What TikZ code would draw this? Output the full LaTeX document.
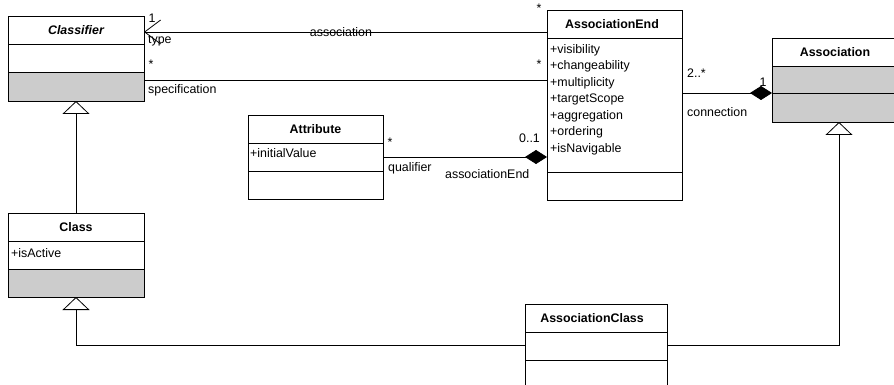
\documentclass[tikz,border=0pt]{standalone}
\usepackage{fontspec}
\setmainfont{Liberation Sans}
\usetikzlibrary{arrows.meta}
\definecolor{compgray}{HTML}{CCCCCC}
\begin{document}
\begin{tikzpicture}[x=1pt,y=-1pt,
  every node/.style={font=\fontsize{12.4}{15}\selectfont, inner sep=0pt},
  umlbox/.style={draw, line width=0.9pt, anchor=north west, outer sep=0pt},
  sep/.style={line width=0.9pt},
  head/.style={font=\fontsize{12.4}{15}\selectfont\bfseries},
  attr/.style={anchor=west},
  lbl/.style={anchor=west},
  conn/.style={line width=0.8pt},
  gen/.style={conn, -{Triangle[open, length=13pt, width=27pt]}},
  nav/.style={conn, -{Straight Barb[length=16pt, width=24pt]}},
  comp/.style={conn, -{Diamond[length=22pt, width=14pt]}}]
\useasboundingbox (0,0) rectangle (894,385);
\clip (0,0) rectangle (894,385);

% Classifier
\fill[compgray] (8,72) rectangle (144,101);
\node[umlbox, minimum width=136pt, minimum height=85pt] (classifier) at (8,16) {};
\draw[sep] (8,44) -- (144,44) (8,72) -- (144,72);
\node[head, font=\fontsize{12.4}{15}\selectfont\bfseries\itshape] (classifierName) at (76,30) {Classifier};

% Class
\fill[compgray] (8,269) rectangle (144,297);
\node[umlbox, minimum width=136pt, minimum height=84pt] (class) at (8,213) {};
\draw[sep] (8,241) -- (144,241) (8,269) -- (144,269);
\node[head] (className) at (76,227) {Class};
\node[attr] (classAttr) at (11,253) {+isActive};

% Attribute
\node[umlbox, minimum width=135pt, minimum height=84pt] (attribute) at (248,115) {};
\draw[sep] (248,143) -- (383,143) (248,171) -- (383,171);
\node[head] (attributeName) at (315.5,129) {Attribute};
\node[attr] (attributeAttr) at (250,153) {+initialValue};

% AssociationEnd
\node[umlbox, minimum width=135pt, minimum height=190pt] (aend) at (547,10) {};
\draw[sep] (547,38) -- (682,38) (547,172) -- (682,172);
\node[head] (aendName) at (612,24) {AssociationEnd};
\foreach \t [count=\i from 0] in {visibility,changeability,multiplicity,targetScope,aggregation,ordering,isNavigable}
  \node[attr] (aendAttr\i) at (550,{50+16.5*\i}) {+\t};

% Association
\fill[compgray] (772,66) rectangle (906,122);
\node[umlbox, minimum width=134pt, minimum height=84pt] (assoc) at (772,38) {};
\draw[sep] (772,66) -- (906,66) (772,93) -- (906,93);
\node[head] (assocName) at (835,52) {Association};

% AssociationClass
\node[umlbox, minimum width=142pt, minimum height=100pt] (aclass) at (525,304) {};
\draw[sep] (525,332) -- (667,332) (525,360) -- (667,360);
\node[head] (aclassName) at (592,318) {AssociationClass};

% Associations
\draw[nav] (aend.west |- 0,32) -- (classifier.east |- 0,32);
\draw[conn] (classifier.east |- 0,80) -- (aend.west |- 0,80);
\draw[comp] (attribute.east |- 0,157) -- (aend.west |- 0,157);
\draw[comp] (aend.east |- 0,93) -- (assoc.west |- 0,93);

% Generalizations
\draw[gen] (class.north) -- (classifier.south);
\draw[gen] (aclass.west |- 0,345) -| (class.south);
\draw[gen] (aclass.east |- 0,345) -| (assoc.south);

% Role names and multiplicities
\node (m1) at (152,18) {1};
\node[lbl] (rType) at (148,41) {type};
\node (nAssoc) at (341,32) {association};
\node (m2) at (539,8) {*};
\node (m3) at (151,64) {*};
\node (m4) at (539,64) {*};
\node[lbl] (rSpec) at (148,90) {specification};
\node (m5) at (390,142) {*};
\node[lbl] (rQual) at (388,168) {qualifier};
\node[lbl] (rAEnd) at (445,174) {associationEnd};
\node[lbl] (m6) at (519,138) {0..1};
\node[lbl] (m7) at (687,73) {2..*};
\node (m8) at (763,82) {1};
\node[lbl] (rConn) at (687,112) {connection};
\end{tikzpicture}
\end{document}
